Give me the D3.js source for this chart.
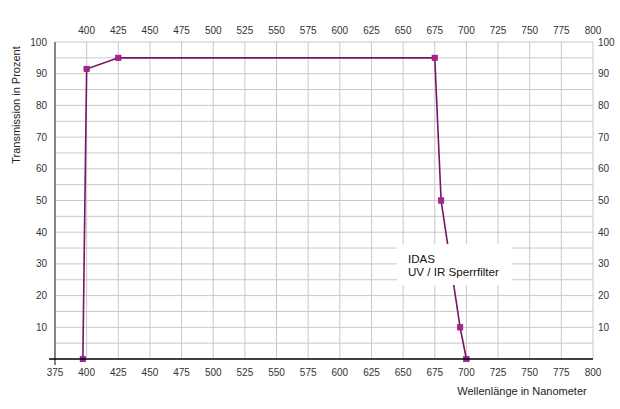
<!DOCTYPE html>
<html>
<head>
<meta charset="utf-8">
<script src="https://cdn.jsdelivr.net/npm/d3@7"></script>
<style>
  body { margin: 0; background: #fff; }
  text { font-family: "Liberation Sans", Arial, sans-serif; }
</style>
</head>
<body>
<div id="chart"></div>
<script>
// wavelength (nm) and transmission (%)
const wavelength = [397, 400, 425, 675, 680, 695, 700];
const transmission = [0, 91.5, 95, 95, 50, 10, 0];

const xTicksBottom = [375, 400, 425, 450, 475, 500, 525, 550, 575, 600, 625, 650, 675, 700, 725, 750, 775, 800];
const xTicksTop = xTicksBottom.slice(1);
const yTicks = [10, 20, 30, 40, 50, 60, 70, 80, 90, 100];
const yGrid = d3.range(5, 101, 5);

const legendLines = ["IDAS", "UV / IR Sperrfilter"];

var width = 620;
var height = 409;
var margin = { top: 42, right: 27, bottom: 50, left: 55 };

var svg = d3.select("#chart")
  .append("svg")
    .attr("width", width)
    .attr("height", height);

const x = d3.scaleLinear().domain([375, 800]).range([margin.left, width - margin.right]);
const y = d3.scaleLinear().domain([0, 100]).range([height - margin.bottom, margin.top]);

// grid
let grid = svg.append("g").attr("class", "grid");
grid.selectAll(".vgrid")
  .data(xTicksTop)
  .enter().append("line")
    .attr("x1", d => x(d)).attr("x2", d => x(d))
    .attr("y1", y(100)).attr("y2", y(0))
    .attr("stroke", "#c8c8c8");
grid.selectAll(".hgrid")
  .data(yGrid)
  .enter().append("line")
    .attr("x1", x(375)).attr("x2", x(800))
    .attr("y1", d => y(d)).attr("y2", d => y(d))
    .attr("stroke", "#c8c8c8");

// the curve
const line = d3.line()
  .x((d, i) => x(wavelength[i]))
  .y(d => y(d));

svg.append("path")
  .datum(transmission)
  .attr("d", line)
  .attr("fill", "none")
  .attr("stroke", "#761468")
  .attr("stroke-width", 1.6);

svg.selectAll(".marker")
  .data(transmission)
  .enter().append("rect")
    .attr("x", (d, i) => x(wavelength[i]) - 2.75)
    .attr("y", d => y(d) - 2.75)
    .attr("width", 5.5)
    .attr("height", 5.5)
    .attr("fill", "#a3248f")
    .attr("stroke", "#8a1a78")
    .attr("stroke-width", 0.6);

// legend box hides part of the grid and line
svg.append("rect")
  .attr("x", 397).attr("y", 244)
  .attr("width", 115).attr("height", 41)
  .attr("fill", "#ffffff");
svg.selectAll(".legend")
  .data(legendLines)
  .enter().append("text")
    .attr("x", 408)
    .attr("y", (d, i) => 263 + i * 12.5)
    .attr("font-size", 11.6)
    .attr("fill", "#111")
    .text(d => d);

// axes lines
svg.append("line")
  .attr("x1", x(375)).attr("x2", x(375))
  .attr("y1", y(100)).attr("y2", y(0) + 6)
  .attr("stroke", "#858585").attr("stroke-width", 2);
svg.append("line")
  .attr("x1", x(375) - 6).attr("x2", x(800))
  .attr("y1", y(0)).attr("y2", y(0))
  .attr("stroke", "#000").attr("stroke-width", 1.5);

// tick labels
const tickStyle = sel => sel.attr("font-size", 10).attr("fill", "#333");

svg.selectAll(".xb")
  .data(xTicksBottom)
  .enter().append("text")
    .attr("x", d => x(d))
    .attr("y", y(0) + 17)
    .attr("text-anchor", "middle")
    .call(tickStyle)
    .text(d => d);

svg.selectAll(".xt")
  .data(xTicksTop)
  .enter().append("text")
    .attr("x", d => x(d))
    .attr("y", margin.top - 8)
    .attr("text-anchor", "middle")
    .call(tickStyle)
    .text(d => d);

svg.selectAll(".yl")
  .data(yTicks)
  .enter().append("text")
    .attr("x", x(375) - 8)
    .attr("y", d => y(d) + 3.5)
    .attr("text-anchor", "end")
    .call(tickStyle)
    .text(d => d);

svg.selectAll(".yr")
  .data(yTicks)
  .enter().append("text")
    .attr("x", x(800) + 5)
    .attr("y", d => y(d) + 3.5)
    .attr("text-anchor", "start")
    .call(tickStyle)
    .text(d => d);

// axis titles
svg.append("text")
  .attr("transform", "translate(20," + 105 + ") rotate(-90)")
  .attr("text-anchor", "middle")
  .attr("font-size", 11)
  .attr("fill", "#222")
  .text("Transmission in Prozent");

svg.append("text")
  .attr("x", 522)
  .attr("y", 395)
  .attr("text-anchor", "middle")
  .attr("font-size", 11)
  .attr("fill", "#222")
  .text("Wellenlänge in Nanometer");
</script>
</body>
</html>
